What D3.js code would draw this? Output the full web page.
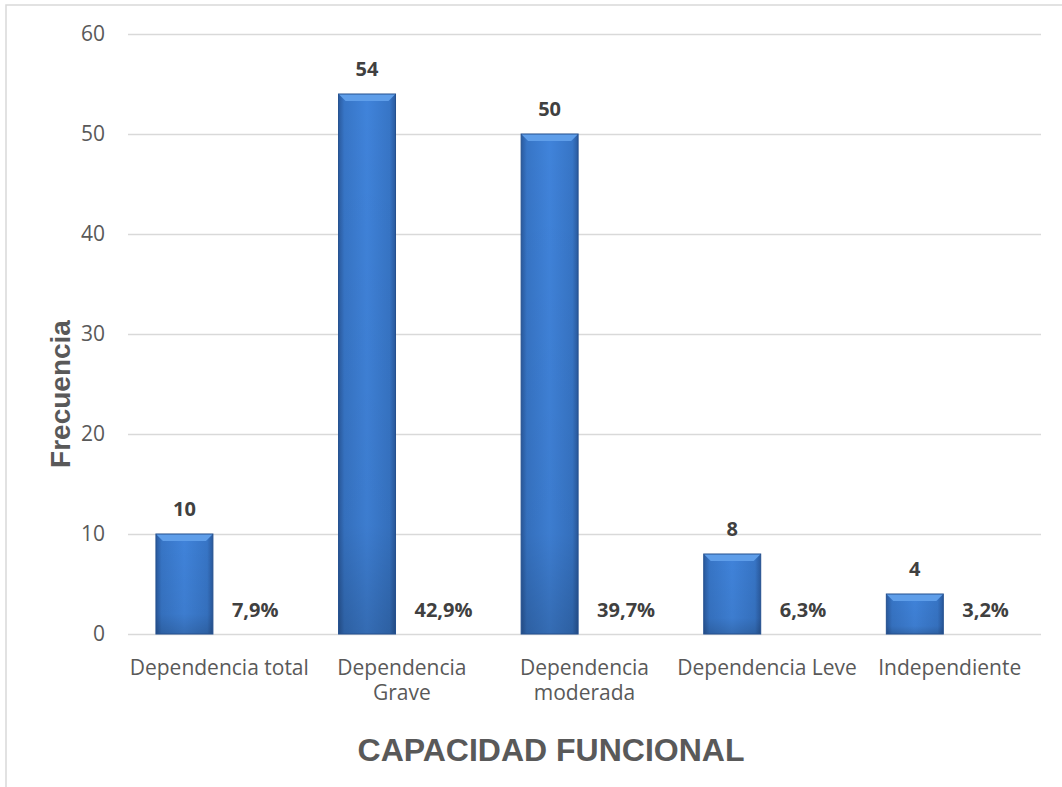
<!DOCTYPE html>
<html>
<head>
<meta charset="utf-8">
<script src="https://cdn.jsdelivr.net/npm/d3@7"></script>
<style>
  html, body { margin: 0; padding: 0; background: #fff; }
  svg { display: block; }
</style>
</head>
<body>
<svg id="chart" width="1062" height="787"></svg>
<script>
// Capacidad funcional: frecuencia y porcentaje por categoría
const categories = ["Dependencia total", "Dependencia Grave", "Dependencia moderada", "Dependencia Leve", "Independiente"];
const categoryLines = [["Dependencia total"], ["Dependencia", "Grave"], ["Dependencia", "moderada"], ["Dependencia Leve"], ["Independiente"]];
const frecuencia = [10, 54, 50, 8, 4];
const porcentaje = [7.9, 42.9, 39.7, 6.3, 3.2];
const yTicks = [0, 10, 20, 30, 40, 50, 60];

const svg = d3.select("#chart");
const W = 1062, H = 787;
const plot = { left: 128, right: 1041, top: 34, bottom: 634 };
const labelFont = "'Open Sans', Lato, sans-serif";
const titleFont = "'Liberation Sans', Arial, sans-serif";

// chart frame
svg.append("rect")
  .attr("x", 6).attr("y", 5)
  .attr("width", W + 10).attr("height", H + 10)
  .attr("fill", "#fff").attr("stroke", "#d9d9d9").attr("stroke-width", 1.5);

const x = d3.scaleBand().domain(categories).range([plot.left, plot.right]).padding(0);
const y = d3.scaleLinear().domain([0, 60]).range([plot.bottom, plot.top]);
const bw = x.bandwidth();
const barOffset = bw * 0.153, barWidth = bw * 0.312;

// gradients for the bevelled bars
const defs = svg.append("defs");
const body = defs.append("linearGradient").attr("id", "barBody").attr("x1", 0).attr("x2", 1).attr("y1", 0).attr("y2", 0);
[[0, "#2a5a9e"], [0.1, "#3775c6"], [0.5, "#4083da"], [0.9, "#3775c6"], [1, "#2a5a9e"]]
  .forEach(([o, c]) => body.append("stop").attr("offset", o).attr("stop-color", c));
const shade = defs.append("linearGradient").attr("id", "barShade").attr("x1", 0).attr("x2", 0).attr("y1", 0).attr("y2", 1);
[[0, "#000", 0], [0.8, "#000", 0.05], [1, "#000", 0.18]]
  .forEach(([o, c, a]) => shade.append("stop").attr("offset", o).attr("stop-color", c).attr("stop-opacity", a));

// grid lines and value axis
const yAxis = d3.axisLeft(y).tickValues(yTicks).tickSize(-(plot.right - plot.left)).tickPadding(23).tickFormat(d3.format("d"));
const gy = svg.append("g").attr("transform", `translate(${plot.left},0)`).call(yAxis);
gy.select(".domain").remove();
gy.selectAll(".tick line").attr("stroke", "#d9d9d9").attr("stroke-width", 1.5);
gy.selectAll(".tick text").attr("fill", "#595959")
  .style("font-size", "21px").style("font-family", labelFont);

// bars
const bars = svg.append("g").selectAll("g").data(categories).join("g");
bars.each(function (c, i) {
  const g = d3.select(this);
  const bx = x(c) + barOffset, by = y(frecuencia[i]), bh = y(0) - y(frecuencia[i]);
  g.append("rect").attr("x", bx).attr("y", by).attr("width", barWidth).attr("height", bh)
    .attr("fill", "url(#barBody)");
  g.append("rect").attr("x", bx).attr("y", by).attr("width", barWidth).attr("height", bh)
    .attr("fill", "url(#barShade)");
  const bev = Math.min(7, bh / 3);
  g.append("path")
    .attr("d", `M${bx},${by} L${bx + barWidth},${by} L${bx + barWidth - bev},${by + bev} L${bx + bev},${by + bev} Z`)
    .attr("fill", "#5f9ee9");
  g.append("rect").attr("x", bx).attr("y", by).attr("width", barWidth).attr("height", bh)
    .attr("fill", "none").attr("stroke", "#24508f").attr("stroke-width", 1);
});

// frequency labels
svg.append("g").selectAll("text").data(categories).join("text")
  .attr("x", c => x(c) + barOffset + barWidth / 2)
  .attr("y", (c, i) => y(frecuencia[i]) - 18)
  .attr("text-anchor", "middle")
  .style("font-family", labelFont).style("font-size", "20px").style("font-weight", "bold")
  .attr("fill", "#404040")
  .text((c, i) => frecuencia[i]);

// percentage labels
const fmtPct = v => v.toFixed(1).replace(".", ",") + "%";
svg.append("g").selectAll("text").data(categories).join("text")
  .attr("x", c => x(c) + barOffset + barWidth + 19)
  .attr("y", y(0) - 17)
  .attr("text-anchor", "start")
  .style("font-family", labelFont).style("font-size", "20px").style("font-weight", "bold")
  .attr("fill", "#404040")
  .text((c, i) => fmtPct(porcentaje[i]));

// category labels
const cat = svg.append("g").selectAll("text").data(categories).join("text")
  .attr("x", c => x(c) + bw / 2)
  .attr("y", 675)
  .attr("text-anchor", "middle")
  .style("font-family", labelFont).style("font-size", "21px")
  .attr("fill", "#595959");
cat.each(function (c, i) {
  d3.select(this).selectAll("tspan").data(categoryLines[i]).join("tspan")
    .attr("x", x(c) + bw / 2)
    .attr("dy", (d, j) => j === 0 ? 0 : 25)
    .text(d => d);
});

// axis titles
svg.append("text")
  .attr("transform", "translate(70,394) rotate(-90)")
  .attr("text-anchor", "middle")
  .style("font-family", titleFont).style("font-size", "28px").style("font-weight", "bold")
  .attr("fill", "#595959")
  .text("Frecuencia");

svg.append("text")
  .attr("x", 551).attr("y", 761)
  .attr("text-anchor", "middle")
  .style("font-family", titleFont).style("font-size", "32px").style("font-weight", "bold")
  .attr("fill", "#595959")
  .text("CAPACIDAD FUNCIONAL");
</script>
</body>
</html>
